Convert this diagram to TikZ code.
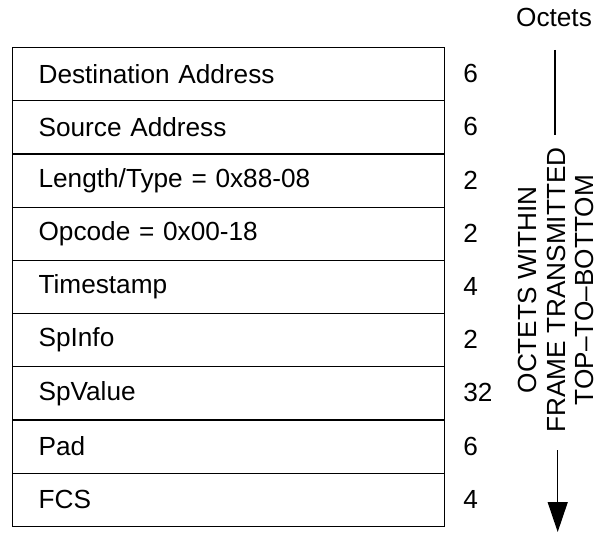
\documentclass[tikz,border=0pt]{standalone}
\usepackage{fontspec}
\setmainfont{Liberation Sans}
\usetikzlibrary{arrows.meta}
\begin{document}
\begin{tikzpicture}[x=0.5pt,y=-0.5pt,
  font=\fontsize{13.1pt}{14.25pt}\selectfont,
  rowbox/.style={draw,line width=0.6pt,anchor=north west,minimum width=216pt,minimum height=26.6pt,
    text width=190pt,inner xsep=13pt,inner ysep=0pt,align=left},
  numlbl/.style={anchor=west,inner sep=0pt},
  conn/.style={line width=0.6pt}]
\useasboundingbox (0,0) rectangle (597,533);
\foreach \t [count=\i from 0] in {Destination Address,Source Address,Length/Type = 0x88-08,Opcode = 0x00-18,Timestamp,SpInfo,SpValue,Pad,FCS}{
  \node[rowbox] (r\i) at (12,{47+53.2*\i}) {\t};
}
\foreach \n [count=\i from 0] in {6,6,2,2,4,2,32,6,4}{
  \node[numlbl] (n\i) at (463,{73.6+53.2*\i}) {\n};
}
\node (oct) at (554,17) {Octets};
\node[rotate=90,align=center,inner sep=0pt] (vt) at (556,290) {OCTETS WITHIN\\FRAME TRANSMITTED\\TOP--TO--BOTTOM};
\coordinate (a1) at (555,50);
\coordinate (a2) at (555,135);
\coordinate (b1) at (557.7,450);
\coordinate (b2) at (557.7,532);
\draw[conn] (a1) -- (a2);
\draw[conn,-{Triangle[width=10pt,length=15pt]}] (b1) -- (b2);
\end{tikzpicture}
\end{document}
